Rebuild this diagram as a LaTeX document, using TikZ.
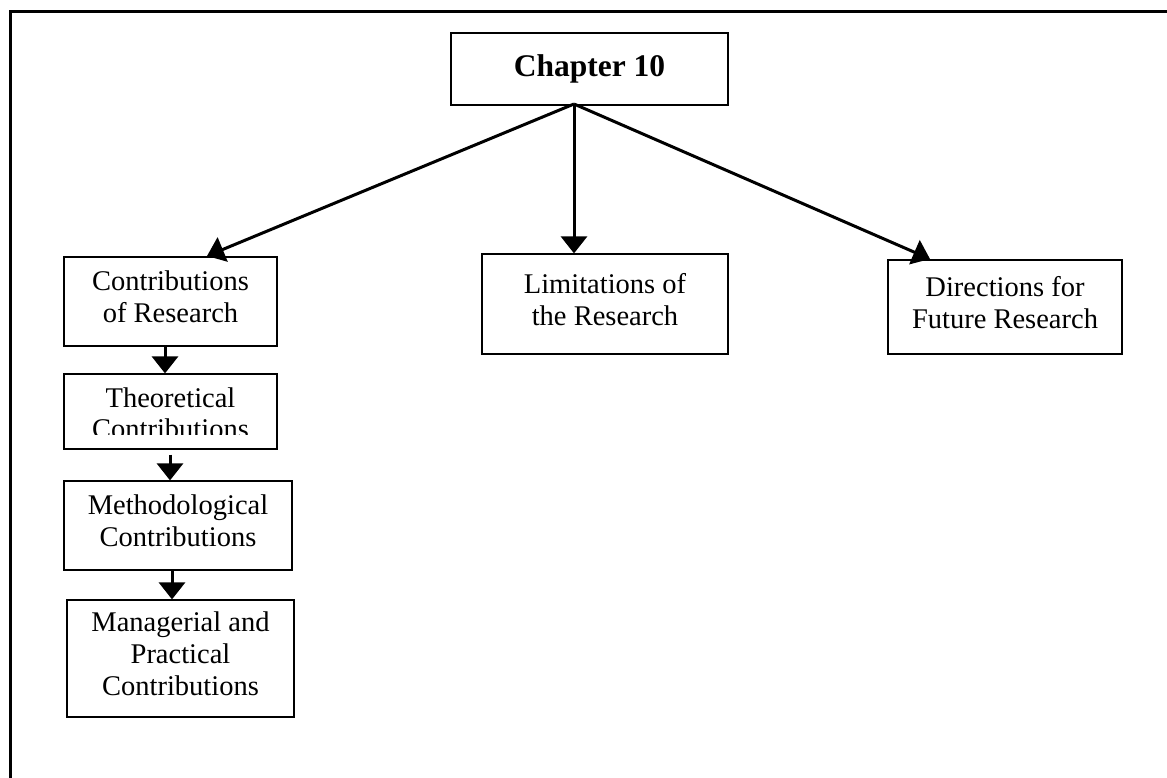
\documentclass[tikz,border=0pt]{standalone}
\usepackage{fontspec}
\setmainfont{Liberation Serif}
\usetikzlibrary{arrows.meta, positioning, calc}

\newcommand{\boxfont}{\fontsize{28.5}{31.7}\selectfont}

\begin{document}
\begin{tikzpicture}[
    x=1pt, y=-1pt,
    box/.style={rectangle, draw, line width=1.2pt, align=center, inner sep=0pt, font=\boxfont, execute at end node=\strut},
    arrow/.style={line width=3pt, -{Triangle[width=26pt, length=17pt]}},
    frame/.style={line width=3pt}
]
\useasboundingbox (0,0) rectangle (1167,778);
\draw [frame] (10.5,778) |- (1167,11.5);

\node (chapter) [box, minimum width=277, minimum height=72, font=\fontsize{31.5}{36}\selectfont\bfseries] at (589.5,69) {Chapter 10};
\node (contrib) [box, minimum width=213, minimum height=89] at (170.5,301.5) {Contributions\\of Research};
\node (limit) [box, minimum width=246, minimum height=100] at (605,304) {Limitations of\\the Research};
\node (future) [box, minimum width=234, minimum height=94] at (1005,307) {Directions for\\Future Research};

% left column
\node (theory) [box, minimum width=213, minimum height=75, path picture={
    \clip (path picture bounding box.north west) rectangle ([yshift=15pt]path picture bounding box.south east);
    \node [align=center, font=\boxfont, yshift=-6.5pt] at (path picture bounding box.center) {Theoretical\\Contributions};
}] at (170.5,411.5) {};
\node (method) [box, minimum width=228, minimum height=89] at (178,525.5) {Methodological\\Contributions};
\node (manage) [box, minimum width=227, minimum height=117] at (180.5,658.5) {Managerial and\\Practical\\Contributions};

\coordinate (split) at (574,104);
\draw [arrow] (split) -- (207,256);
\draw [arrow] (split) -- (split |- limit.north);
\draw [arrow] (split) -- (930,259);

\draw [arrow] ([xshift=-5.5pt]contrib.south) -- ([xshift=-5.5pt]theory.north);
\draw [arrow] ([xshift=-0.5pt, yshift=-5pt]theory.south) -- ([xshift=-0.5pt]theory.south |- method.north);
\draw [arrow] ([xshift=-6pt]method.south) -- ([xshift=-6pt]method.south |- manage.north);
\end{tikzpicture}
\end{document}
